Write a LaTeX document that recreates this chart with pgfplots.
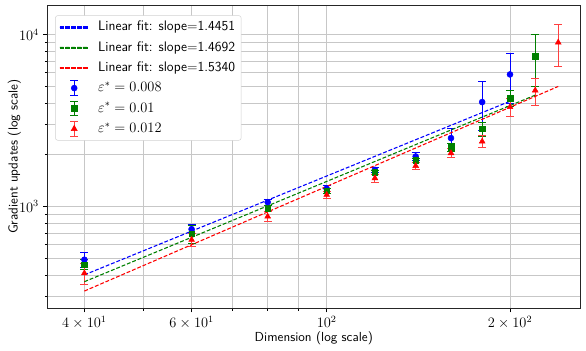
\documentclass[border=0pt]{standalone}
\usepackage{pgfplots}
\usepackage{pgfplotstable}
\pgfplotsset{compat=1.18}
\usetikzlibrary{calc}
\renewcommand{\familydefault}{\sfdefault}
\definecolor{mplgreen}{rgb}{0,0.5,0}
\definecolor{mplblue}{rgb}{0,0,1}
\definecolor{mplred}{rgb}{1,0,0}
\definecolor{gridgray}{rgb}{0.78,0.78,0.78}

\pgfplotstableread{
x y e
40 490 50
60 738 45
80 1060 40
100 1268 50
120 1636 60
140 1955 110
160 2502 330
180 4055 1300
200 5875 1900
}\tblue
\pgfplotstableread{
x y e
40 459 30
60 693 80
80 970 40
100 1234 40
120 1578 50
140 1853 60
160 2218 120
180 2833 270
200 4258 450
220 7485 2500
}\tgreen
\pgfplotstableread{
x y e
40 409 55
60 640 55
80 875 55
100 1170 60
120 1463 80
140 1725 80
160 2046 120
180 2392 200
200 3796 450
220 4745 850
240 9020 2500
}\tred

\begin{document}
\begin{tikzpicture}
\begin{axis}[
  name=ax,
  scale only axis,
  width=444pt, height=252.5pt,
  xmode=log, ymode=log,
  xmin=34.77, xmax=260.9,
  ymin=256, ymax=14890,
  xtick={40,60,100,200},
  xticklabels={$4\times10^{1}$,$6\times10^{1}$,$10^{2}$,$2\times10^{2}$},
  minor xtick={50,70,80,90},
  ytick={1000,10000},
  minor ytick={300,400,500,600,700,800,900,2000,3000,4000,5000,6000,7000,8000,9000},
  grid=both,
  major grid style={gridgray, line width=0.6pt},
  minor grid style={gridgray, line width=0.6pt},
  tick align=outside,
  major tick length=3.5pt,
  minor tick length=2pt,
  tick style={black, line width=0.6pt},
  xtick pos=bottom, ytick pos=left,
  tick label style={font=\fontsize{11.5}{14}\selectfont},
  axis line style={line width=0.7pt, black!85},
  label style={font=\fontsize{10.9}{13}\selectfont},
  xlabel={Dimension (log scale)},
  ylabel={Gradient updates (log scale)},
  xlabel style={at={(axis description cs:0.5,0)}, anchor=base, yshift=-27.5pt},
  ylabel style={at={(axis description cs:0,0.5)}, anchor=base, yshift=24.8pt},
  legend style={at={(0.0148,0.966)}, anchor=north west,
    draw=black!18, fill=white, rounded corners=2pt, text=black,
    font=\fontsize{11.5}{14}\selectfont, row sep=2.5pt, inner xsep=3.5pt, inner ysep=2.5pt,
    nodes={inner sep=1.5pt, text height=8.8pt, text depth=2.6pt},
    /tikz/every odd column/.append style={column sep=7.8pt}},
  legend cell align=left,
]
\addplot[mplblue, only marks, mark=*, mark size=2.5pt, forget plot,
  error bars/.cd, y dir=both, y explicit, error mark=-,
  error bar style={line width=0.8pt, mplblue},
  error mark options={line width=0.8pt, mark size=3.3pt, mplblue, rotate=90}
  ] table[x=x, y=y, y error=e] {\tblue};
\addplot[mplgreen, only marks, mark=square*, mark size=2.3pt, forget plot,
  error bars/.cd, y dir=both, y explicit, error mark=-,
  error bar style={line width=0.8pt, mplgreen},
  error mark options={line width=0.8pt, mark size=3.3pt, mplgreen, rotate=90}
  ] table[x=x, y=y, y error=e] {\tgreen};
\addplot[mplred, only marks, mark=triangle*, mark size=2.8pt, forget plot,
  error bars/.cd, y dir=both, y explicit, error mark=-,
  error bar style={line width=0.8pt, mplred!75},
  error mark options={line width=0.8pt, mark size=3.3pt, mplred!75, rotate=90}
  ] table[x=x, y=y, y error=e] {\tred};

\addplot[mplblue, line width=0.9pt, dash pattern=on 3.2pt off 1.6pt, forget plot] coordinates {(40,400) (200,4100)};
\addplot[mplgreen, line width=0.9pt, dash pattern=on 3.2pt off 1.6pt, forget plot] coordinates {(40,365) (220,4450)};
\addplot[mplred, line width=0.9pt, dash pattern=on 3.2pt off 1.6pt, forget plot] coordinates {(40,322) (240,5000)};

\addlegendimage{legend image code/.code={
    \fill[mplblue, sharp corners] (0cm,-0.45pt) rectangle (3.2pt,0.45pt) (4.8pt,-0.45pt) rectangle (8pt,0.45pt) (9.6pt,-0.45pt) rectangle (12.8pt,0.45pt) (14.4pt,-0.45pt) rectangle (17.6pt,0.45pt) (19.2pt,-0.45pt) rectangle (22.4pt,0.45pt);}}
\addlegendentry{Linear fit: slope=1.4451}
\addlegendimage{legend image code/.code={
    \fill[mplgreen, sharp corners] (0cm,-0.45pt) rectangle (3.2pt,0.45pt) (4.8pt,-0.45pt) rectangle (8pt,0.45pt) (9.6pt,-0.45pt) rectangle (12.8pt,0.45pt) (14.4pt,-0.45pt) rectangle (17.6pt,0.45pt) (19.2pt,-0.45pt) rectangle (22.4pt,0.45pt);}}
\addlegendentry{Linear fit: slope=1.4692}
\addlegendimage{legend image code/.code={
    \fill[mplred, sharp corners] (0cm,-0.45pt) rectangle (3.2pt,0.45pt) (4.8pt,-0.45pt) rectangle (8pt,0.45pt) (9.6pt,-0.45pt) rectangle (12.8pt,0.45pt) (14.4pt,-0.45pt) rectangle (17.6pt,0.45pt) (19.2pt,-0.45pt) rectangle (22.4pt,0.45pt);}}
\addlegendentry{Linear fit: slope=1.5340}
\addlegendimage{legend image code/.code={
    \draw[mplblue, line width=0.8pt, sharp corners] (0.42cm,-0.215cm)--(0.42cm,0.215cm) (0.31cm,-0.215cm)--(0.53cm,-0.215cm) (0.31cm,0.215cm)--(0.53cm,0.215cm);
    \fill[mplblue] (0.42cm,0cm) circle (2.5pt);}}
\addlegendentry{$\varepsilon^{*}=0.008$}
\addlegendimage{legend image code/.code={
    \draw[mplgreen, line width=0.8pt, sharp corners] (0.42cm,-0.215cm)--(0.42cm,0.215cm) (0.31cm,-0.215cm)--(0.53cm,-0.215cm) (0.31cm,0.215cm)--(0.53cm,0.215cm);
    \fill[mplgreen, sharp corners] (0.34cm,-0.08cm) rectangle (0.50cm,0.08cm);}}
\addlegendentry{$\varepsilon^{*}=0.01$}
\addlegendimage{legend image code/.code={
    \draw[mplred!75, line width=0.8pt, sharp corners] (0.42cm,-0.215cm)--(0.42cm,0.215cm) (0.31cm,-0.215cm)--(0.53cm,-0.215cm) (0.31cm,0.215cm)--(0.53cm,0.215cm);
    \fill[mplred, sharp corners] (0.42cm,0.1cm) -- (0.33cm,-0.06cm) -- (0.51cm,-0.06cm) -- cycle;}}
\addlegendentry{$\varepsilon^{*}=0.012$}
\end{axis}
\pgfresetboundingbox
\path[use as bounding box] ($(ax.south west)+(-39.4pt,-35.6pt)$) rectangle ($(ax.north east)+(4.75pt,4.2pt)$);
\end{tikzpicture}
\end{document}
